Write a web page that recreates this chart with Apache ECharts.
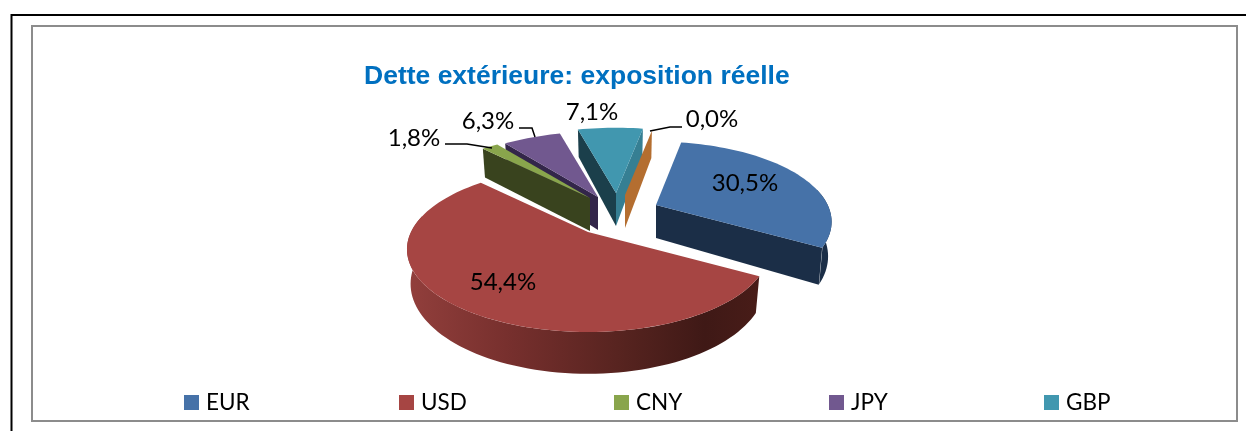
<!DOCTYPE html>
<html>
<head>
<meta charset="utf-8">
<style>html,body{margin:0;padding:0;background:#fff}#chart{width:1246px;height:431px}</style>
<script src="https://cdn.jsdelivr.net/npm/echarts@6/dist/echarts.min.js"></script>
</head>
<body>
<div id="chart"></div>
<script>
// values, in drawing order round the pie
var categories = ['EUR', 'USD', 'CNY', 'JPY', 'GBP', 'Autre'];
var shares = [30.5, 54.4, 1.8, 6.3, 7.1, 0.0];
var labels = ['30,5%', '54,4%', '1,8%', '6,3%', '7,1%', '0,0%'];
var legendNames = ['EUR', 'USD', 'CNY', 'JPY', 'GBP'];

var topColors = ['#4672A8', '#A64543', '#89A54C', '#71588F', '#4197AF', '#B46E30'];
var startWallColors = ['#1B2E47', '#451B18', '#39431E', '#33264A', '#1B3F4B', '#B46E30'];
var endWallColors = ['#1B2E47', '#451B18', '#39431E', '#33264A', '#367F93', '#B46E30'];

// exploded slices: where each apex lands, and its scale
var apexX = [656, 588, 590, 598, 616, 625];
var apexY = [205, 232, 198, 197, 193, 195];
var sliceScale = [0.97, 1, 1, 1, 1, 1];
var labelX = [745, 503, 414, 488, 592, 712];
var labelY = [183, 282, 138, 121, 112, 119];
var leaders = [null, null,
    [[445, 144], [467, 144], [492, 148]],
    [[519, 128], [532, 128], [535, 137]],
    null,
    [[682, 127], [670, 127], [650, 131]]];
var drawOrder = [4, 5, 3, 2, 0, 1];

// pie model: perspective disc seen from the front
var RX = 177, RY = 79, PERSP = 0.21, DEPTH = 33, SQUEEZE = 0.02, FIRST_ANGLE = 30;
var FONT = 'Lato';

function rad(d) { return d * Math.PI / 180; }

function project(i, deg, r, z) {
    var c = Math.cos(rad(deg)) * r, s = Math.sin(rad(deg)) * r;
    var d = 1 - PERSP * s;
    var k = sliceScale[i];
    return [
        apexX[i] + k * RX * c / d * (1 - SQUEEZE * z),
        apexY[i] + (k * RY * s + DEPTH * z) / d
    ];
}

function arcPoints(i, from, to, z) {
    var out = [], n = Math.max(2, Math.ceil(Math.abs(to - from) / 2));
    for (var j = 0; j <= n; j++) out.push(project(i, from + (to - from) * j / n, 1, z));
    return out;
}

function poly(points, fill) {
    return { type: 'polygon', shape: { points: points }, style: { fill: fill }, silent: true };
}

// true when the top surface lies above the edge apex->p, so the wall below it shows
function wallShows(i, deg, midDeg) {
    var a = project(i, 0, 0, 0), p = project(i, deg, 1, 0), q = project(i, midDeg, 1, 0);
    if (Math.abs(p[0] - a[0]) < 1e-6) return false;
    var lineY = a[1] + (p[1] - a[1]) * (q[0] - a[0]) / (p[0] - a[0]);
    return q[1] < lineY;
}

function wall(i, deg, fill) {
    return poly([project(i, 0, 0, 0), project(i, deg, 1, 0), project(i, deg, 1, 1), project(i, 0, 0, 1)], fill);
}

function arcWallFill(i) {
    if (categories[i] !== 'USD') return startWallColors[i];
    return new echarts.graphic.LinearGradient(407, 0, 757, 0, [
        { offset: 0, color: '#923F3C' },
        { offset: 0.3, color: '#762F2D' },
        { offset: 0.6, color: '#582420' },
        { offset: 0.85, color: '#3F1916' },
        { offset: 1, color: '#481C18' }
    ], true);
}

function sliceAngles(i) {
    var before = 0;
    for (var j = 0; j < i; j++) before += shares[j];
    return [FIRST_ANGLE - shares[0] * 3.6 + before * 3.6, FIRST_ANGLE - shares[0] * 3.6 + (before + shares[i]) * 3.6];
}

function renderSlice(i) {
    return function () {
        var ang = sliceAngles(i), a0 = ang[0], a1 = ang[1], mid = (a0 + a1) / 2;
        var children = [];
        if (a1 - a0 < 0.01) {
            children.push(wall(i, a1, endWallColors[i]));
        } else {
            if (wallShows(i, a0, mid)) children.push(wall(i, a0, startWallColors[i]));
            if (wallShows(i, a1, mid)) children.push(wall(i, a1, endWallColors[i]));
            // outer rim, only the part turned towards the viewer
            var from = null, to = null;
            for (var d = a0; d <= a1; d += 0.5) {
                if (Math.sin(rad(d)) > -PERSP) {
                    if (from === null) from = d;
                    to = d;
                }
            }
            if (from !== null) {
                children.push(poly(arcPoints(i, from, to, 0).concat(arcPoints(i, to, from, 1)), arcWallFill(i)));
            }
            children.push(poly([project(i, 0, 0, 0)].concat(arcPoints(i, a0, a1, 0)), topColors[i]));
        }
        if (leaders[i]) {
            children.push({
                type: 'polyline', shape: { points: leaders[i] }, silent: true,
                style: { stroke: '#000', lineWidth: 1.5, fill: null }
            });
        }
        children.push({
            type: 'text', silent: true,
            style: {
                x: labelX[i], y: labelY[i], text: labels[i], fill: '#000',
                font: '24px ' + FONT, textAlign: 'center', textVerticalAlign: 'middle'
            }
        });
        return { type: 'group', children: children };
    };
}

var chart = echarts.init(document.getElementById('chart'), null, { renderer: 'canvas' });

var series = drawOrder.map(function (i) {
    return {
        name: categories[i],
        type: 'custom',
        coordinateSystem: 'none',
        silent: true,
        itemStyle: { color: topColors[i] },
        data: [shares[i]],
        renderItem: renderSlice(i)
    };
});

chart.setOption({
    animation: false,
    backgroundColor: '#fff',
    title: {
        text: 'Dette extérieure: exposition réelle',
        left: 359, top: 58,
        textStyle: { color: '#0070C0', fontFamily: 'Liberation Sans', fontWeight: 'bold', fontSize: 26.5 }
    },
    legend: legendNames.map(function (name, n) {
        return {
            data: [name],
            left: 184 + 215 * n, top: 391, padding: 0,
            icon: 'rect', itemWidth: 15, itemHeight: 15, itemGap: 0,
            selectedMode: false,
            textStyle: { fontFamily: FONT, fontSize: 22.5, color: '#000', padding: [0, 0, 0, 2] }
        };
    }),
    graphic: [
        { type: 'polyline', silent: true, z: 0, shape: { points: [[11.5, 431], [11.5, 15], [1246, 15]] },
          style: { stroke: '#000', lineWidth: 2, fill: null } },
        { type: 'rect', silent: true, z: 0, shape: { x: 32, y: 26, width: 1205, height: 395 },
          style: { stroke: '#8C8C8C', lineWidth: 2, fill: '#fff' } }
    ],
    series: series
});
</script>
</body>
</html>
